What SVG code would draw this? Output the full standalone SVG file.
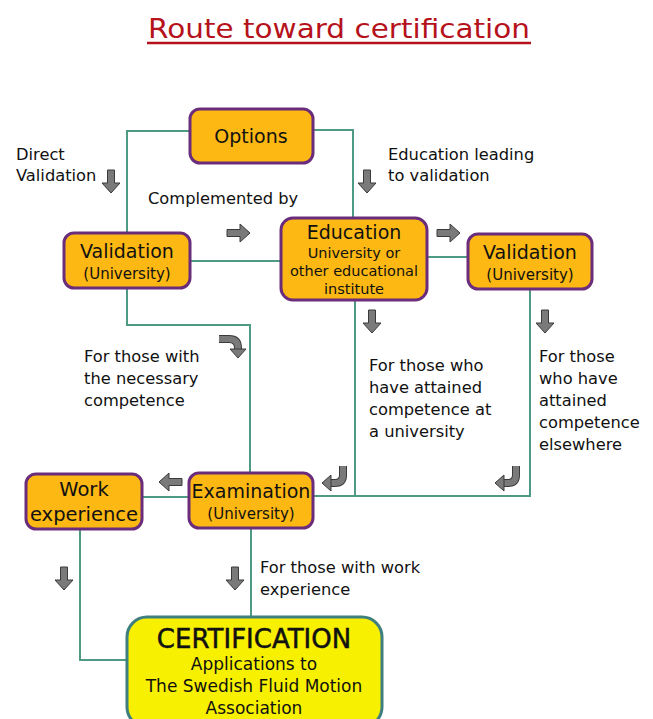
<svg xmlns="http://www.w3.org/2000/svg" width="653" height="719" viewBox="0 0 653 719">
<defs>
<style>
.t{font-family:"DejaVu Sans","Liberation Sans",sans-serif;fill:#111}
.lbl{font-size:16.3px}
.n{fill:#fdb813;stroke:#6b2d7b;stroke-width:3}
.c{fill:none;stroke:#4f9a84;stroke-width:2}
.ba{fill:#7a7a7a;stroke:#3a3a3a;stroke-width:1}
.cv1{fill:none;stroke:#3a3a3a;stroke-width:8}
.cv2{fill:none;stroke:#7a7a7a;stroke-width:6}
</style>
<path id="down" class="ba" d="M-3.5,0 h7 v13 h5.5 l-9,10 l-9,-10 h5.5 z"/>
<path id="right" class="ba" d="M0,-3.5 v7 h13 v5.5 l10,-9 l-10,-9 v5.5 z"/>
<path id="left" class="ba" d="M0,-3.5 v7 h-13 v5.5 l-10,-9 l10,-9 v5.5 z"/>
</defs>
<rect width="653" height="719" fill="#fff"/>
<g id="title">
<text class="t" x="339" y="38" text-anchor="middle" font-size="27" style="fill:#b5121b" textLength="382" lengthAdjust="spacingAndGlyphs">Route toward certification</text>
<line x1="147" y1="43" x2="531" y2="43" stroke="#b5121b" stroke-width="2.5"/>
</g>
<g id="connectors">
<polyline class="c" points="190,131 127,131 127,233"/>
<polyline class="c" points="313,130 353,130 353,218"/>
<line class="c" x1="190" y1="261" x2="281" y2="261"/>
<line class="c" x1="427" y1="257" x2="468" y2="257"/>
<polyline class="c" points="127,288 127,325 250,325 250,473"/>
<polyline class="c" points="355,300 355,496 530,496 530,289"/>
<line class="c" x1="313" y1="496" x2="355" y2="496"/>
<line class="c" x1="142" y1="497" x2="189" y2="497"/>
<polyline class="c" points="80,529 80,660 127,660"/>
<line class="c" x1="251" y1="528" x2="251" y2="617"/>
</g>
<g id="arrows">
<use href="#down" x="111" y="170"/>
<use href="#down" x="367" y="170"/>
<use href="#down" x="372" y="310"/>
<use href="#down" x="545" y="310"/>
<use href="#down" x="64" y="567"/>
<use href="#down" x="235" y="567"/>
<use href="#right" x="227" y="233"/>
<use href="#right" x="437" y="233"/>
<use href="#left" x="182" y="482"/>
<path class="cv1" d="M219,339 H229 Q238,339 238,348 V350"/>
<path class="cv2" d="M219,339 H229 Q238,339 238,348 V351"/>
<path class="ba" d="M230,349 h16 l-8,9 z"/>
<path class="cv1" d="M343,466 V475 Q343,483 335,483 H331"/>
<path class="cv2" d="M343,466 V475 Q343,483 335,483 H330"/>
<path class="ba" d="M331,475 v16 l-9,-8 z"/>
<path class="cv1" d="M516,466 V475 Q516,483 508,483 H504"/>
<path class="cv2" d="M516,466 V475 Q516,483 508,483 H503"/>
<path class="ba" d="M504,475 v16 l-9,-8 z"/>
</g>
<g id="options">
<rect class="n" x="190" y="109" width="123" height="54" rx="10"/>
<text class="t" x="251" y="143" text-anchor="middle" font-size="19">Options</text>
</g>
<g id="validation-left">
<rect class="n" x="64" y="233" width="126" height="55" rx="10"/>
<text class="t" x="127" y="258" text-anchor="middle" font-size="19">Validation</text>
<text class="t" x="127" y="279" text-anchor="middle" font-size="15">(University)</text>
</g>
<g id="education">
<rect class="n" x="281" y="218" width="146" height="82" rx="12"/>
<text class="t" x="354" y="239" text-anchor="middle" font-size="19">Education</text>
<text class="t" x="354" y="258" text-anchor="middle" font-size="14.5">University or</text>
<text class="t" x="354" y="276" text-anchor="middle" font-size="14.5">other educational</text>
<text class="t" x="354" y="294" text-anchor="middle" font-size="14.5">institute</text>
</g>
<g id="validation-right">
<rect class="n" x="468" y="234" width="124" height="55" rx="10"/>
<text class="t" x="530" y="259" text-anchor="middle" font-size="19">Validation</text>
<text class="t" x="530" y="280" text-anchor="middle" font-size="15">(University)</text>
</g>
<g id="examination">
<rect class="n" x="189" y="473" width="124" height="55" rx="10"/>
<text class="t" x="251" y="498" text-anchor="middle" font-size="19">Examination</text>
<text class="t" x="251" y="519" text-anchor="middle" font-size="15">(University)</text>
</g>
<g id="work-experience">
<rect class="n" x="26" y="474" width="116" height="55" rx="10"/>
<text class="t" x="84" y="496" text-anchor="middle" font-size="19.5">Work</text>
<text class="t" x="84" y="521" text-anchor="middle" font-size="19.5">experience</text>
</g>
<g id="certification">
<rect x="127" y="617" width="255" height="110" rx="20" fill="#f7f000" stroke="#3f7f7f" stroke-width="3"/>
<text class="t" x="254" y="648" text-anchor="middle" font-size="26" stroke="#111" stroke-width="0.5">CERTIFICATION</text>
<text class="t" x="254" y="670" text-anchor="middle" font-size="17">Applications to</text>
<text class="t" x="254" y="692" text-anchor="middle" font-size="17">The Swedish Fluid Motion</text>
<text class="t" x="254" y="714" text-anchor="middle" font-size="17">Association</text>
</g>
<g id="labels">
<text class="t lbl" x="16" y="160">Direct</text>
<text class="t lbl" x="16" y="181">Validation</text>
<text class="t lbl" x="148" y="204">Complemented by</text>
<text class="t lbl" x="388" y="160">Education leading</text>
<text class="t lbl" x="388" y="181">to validation</text>
<text class="t lbl" x="84" y="362">For those with</text>
<text class="t lbl" x="84" y="384">the necessary</text>
<text class="t lbl" x="84" y="406">competence</text>
<text class="t lbl" x="369" y="371">For those who</text>
<text class="t lbl" x="369" y="393">have attained</text>
<text class="t lbl" x="369" y="415">competence at</text>
<text class="t lbl" x="369" y="437">a university</text>
<text class="t lbl" x="539" y="362">For those</text>
<text class="t lbl" x="539" y="384">who have</text>
<text class="t lbl" x="539" y="406">attained</text>
<text class="t lbl" x="539" y="428">competence</text>
<text class="t lbl" x="539" y="450">elsewhere</text>
<text class="t lbl" x="260" y="573">For those with work</text>
<text class="t lbl" x="260" y="595">experience</text>
</g>
</svg>
